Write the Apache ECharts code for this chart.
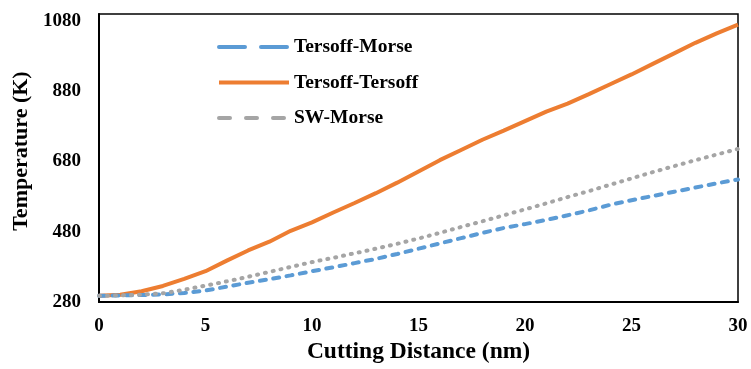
<!DOCTYPE html>
<html>
<head>
<meta charset="utf-8">
<script src="https://cdn.jsdelivr.net/npm/echarts@6/dist/echarts.min.js"></script>
<style>html,body{margin:0;padding:0;background:#fff;}#c{width:751px;height:369px;}</style>
</head>
<body>
<div id="c"></div>
<script>
const distance = [0,1,2,3,4,5,6,7,8,9,10,11,12,13,14,15,16,17,18,19,20,21,22,23,24,25,26,27,28,29,30];
const tersoffMorse = [298,299,300,302,306,313,324,335,345,356,368,379,391,403,417,432,447,462,477,491,502,514,527,541,557,570,582,594,606,618,629];
const tersoffTersoff = [298,301,311,326,346,368,398,427,452,483,507,535,562,590,620,652,684,713,742,768,795,822,845,872,900,928,958,988,1018,1045,1070];
const swMorse = [298,299,301,305,315,327,339,352,366,380,394,406,419,432,446,461,477,494,510,527,544,561,579,596,614,632,650,667,684,700,716];
const seriesNames = ['Tersoff-Morse','Tersoff-Tersoff','SW-Morse'];
const xTicks = {min:0, max:30, interval:5};
const yTicks = {min:280, max:1100, interval:200};

const font = 'Liberation Serif';
const pair = (ys) => distance.map((x,i)=>[x, ys[i]]);
const chart = echarts.init(document.getElementById('c'));
chart.setOption({
  animation:false,
  backgroundColor:'#fff',
  grid:{left:99, right:13, top:14, bottom:62, show:true, borderColor:'#000', borderWidth:1.5, containLabel:false},
  legend:{
    orient:'vertical', left:212, top:32, itemWidth:70, itemHeight:14, itemGap:15.5,
    itemStyle:{opacity:0},
    textStyle:{fontFamily:font, fontWeight:'bold', fontSize:19.5, color:'#000', lineHeight:20},
    data:[
      {name:seriesNames[0], lineStyle:{type:[26,16], cap:'round', width:4}},
      {name:seriesNames[1], lineStyle:{width:4}},
      {name:seriesNames[2], lineStyle:{type:[11,16], cap:'round', width:4}}
    ]
  },
  xAxis:{
    type:'value', min:xTicks.min, max:xTicks.max, interval:xTicks.interval,
    name:'Cutting Distance (nm)', nameLocation:'middle', nameGap:37,
    nameTextStyle:{fontFamily:font, fontWeight:'bold', fontSize:23.5, color:'#000'},
    axisLine:{show:true, lineStyle:{color:'#000', width:2}},
    axisTick:{show:false}, splitLine:{show:false},
    axisLabel:{fontFamily:font, fontWeight:'bold', fontSize:19, color:'#000', margin:14}
  },
  yAxis:{
    type:'value', min:yTicks.min, max:yTicks.max, interval:yTicks.interval,
    name:'Temperature (K)', nameLocation:'middle', nameGap:62,
    nameTextStyle:{fontFamily:font, fontWeight:'bold', fontSize:22, color:'#000', padding:[0,0,0,14]},
    axisLine:{show:true, lineStyle:{color:'#000', width:2}},
    axisTick:{show:false}, splitLine:{show:false},
    axisLabel:{fontFamily:font, fontWeight:'bold', fontSize:19, color:'#000', margin:18, showMaxLabel:false,
      formatter:(v)=>String(v)}
  },
  series:[
    {name:seriesNames[0], type:'line', data:pair(tersoffMorse), showSymbol:false, symbol:'none',
     lineStyle:{color:'#5B9BD5', width:4, type:[6,7.5], cap:'round'}, itemStyle:{color:'#5B9BD5'}, z:3},
    {name:seriesNames[1], type:'line', data:pair(tersoffTersoff), showSymbol:false, symbol:'none',
     lineStyle:{color:'#ED7D31', width:4}, itemStyle:{color:'#ED7D31'}, z:2},
    {name:seriesNames[2], type:'line', data:pair(swMorse), showSymbol:false, symbol:'none',
     lineStyle:{color:'#A5A5A5', width:4, type:[1,7], cap:'round'}, itemStyle:{color:'#A5A5A5'}, z:4}
  ]
});
</script>
</body>
</html>
